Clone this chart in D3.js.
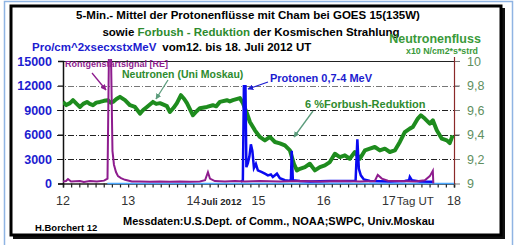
<!DOCTYPE html>
<html>
<head>
<meta charset="utf-8">
<script src="https://cdn.jsdelivr.net/npm/d3@7"></script>
<style>
  body { margin: 0; background: #fff; }
  text { font-family: "Liberation Sans", Arial, sans-serif; }
</style>
</head>
<body>
<svg id="chart"></svg>
<script>
// data (day of July 2012, value)
const xTicksMajor = [12, 13, 14, 15, 16, 17, 18]
const leftTicks = [0, 3000, 6000, 9000, 12000, 15000]
const rightTicks = [9, 9.2, 9.4, 9.6, 9.8, 10]

// neutron monitor Moscow, x10 N/cm2*s*strd
const neutron = [
  [12.00, 9.666], [12.05, 9.64], [12.107, 9.656], [12.153, 9.68], [12.21, 9.65], [12.26, 9.625],
  [12.31, 9.65], [12.368, 9.666], [12.41, 9.65], [12.46, 9.639], [12.51, 9.66], [12.567, 9.666],
  [12.63, 9.675], [12.69, 9.68], [12.73, 9.66], [12.767, 9.666], [12.82, 9.69], [12.874, 9.707],
  [12.951, 9.68], [13.028, 9.639], [13.104, 9.625], [13.14, 9.60], [13.181, 9.571], [13.23, 9.60],
  [13.288, 9.625], [13.38, 9.666], [13.43, 9.65], [13.488, 9.656], [13.595, 9.631], [13.641, 9.584],
  [13.70, 9.62], [13.748, 9.656], [13.81, 9.721], [13.86, 9.69], [13.902, 9.656], [13.994, 9.557],
  [14.05, 9.59], [14.10, 9.615], [14.209, 9.625], [14.30, 9.639], [14.35, 9.63], [14.408, 9.666],
  [14.515, 9.68], [14.56, 9.67], [14.607, 9.68], [14.715, 9.697], [14.761, 9.656], [14.822, 9.574],
  [14.868, 9.502], [14.945, 9.434], [15.021, 9.38], [15.098, 9.352], [15.175, 9.38], [15.252, 9.339],
  [15.328, 9.328], [15.405, 9.311], [15.482, 9.27], [15.543, 9.161], [15.589, 9.107], [15.635, 9.12],
  [15.712, 9.134], [15.788, 9.161], [15.865, 9.107], [15.942, 9.134], [16.018, 9.148], [16.095, 9.175],
  [16.172, 9.243], [16.248, 9.216], [16.325, 9.23], [16.40, 9.202], [16.479, 9.257], [16.555, 9.202],
  [16.632, 9.27], [16.709, 9.284], [16.785, 9.298], [16.862, 9.27], [16.939, 9.284], [17.015, 9.257],
  [17.092, 9.27], [17.169, 9.339], [17.245, 9.42], [17.322, 9.448], [17.368, 9.461], [17.445, 9.53],
  [17.491, 9.557], [17.552, 9.53], [17.629, 9.489], [17.675, 9.516], [17.736, 9.434], [17.813, 9.366],
  [17.89, 9.352], [17.935, 9.33], [17.98, 9.393]
]

// protons 0,7-4 MeV, Pro/cm^2xsecxstxMeV
const protons = [
  [14.73, 200], [14.76, 400], [14.776, 11900], [14.80, 11900], [14.814, 2000], [14.837, 2500],
  [14.86, 3300], [14.883, 4800], [14.906, 4000], [14.93, 1900], [14.96, 2400], [14.99, 1600],
  [15.052, 1400], [15.098, 1200], [15.144, 1000], [15.19, 1100], [15.22, 800], [15.283, 1200],
  [15.328, 650], [15.405, 400], [15.466, 350], [15.497, 400], [15.51, 4000], [15.527, 400],
  [15.635, 300], [15.79, 250], [16.095, 300], [16.40, 300], [16.49, 350], [16.517, 5400],
  [16.54, 1800], [16.57, 1000], [16.617, 500], [16.71, 300], [17.015, 250], [17.245, 300],
  [17.31, 400], [17.322, 800], [17.353, 400], [17.475, 250], [17.675, 200]
]

// x-ray start signal (RE)
const xray = [
  [12.00, 250], [12.046, 300], [12.077, 550], [12.123, 250], [12.26, 300], [12.32, 200],
  [12.414, 300], [12.52, 250], [12.63, 350], [12.683, 600], [12.705, 16000], [12.736, 16000],
  [12.759, 4000], [12.782, 2300], [12.813, 1400], [12.844, 900], [12.89, 650], [12.951, 450],
  [13.058, 250], [13.18, 250], [13.334, 200], [13.488, 250], [13.641, 200], [13.794, 250],
  [13.948, 200], [14.10, 250], [14.18, 400], [14.224, 1400], [14.255, 600], [14.33, 300],
  [14.485, 250], [14.638, 300], [14.79, 250], [15.02, 300], [15.33, 250], [15.635, 300],
  [15.94, 250], [16.248, 300], [16.555, 250], [16.785, 300], [16.83, 1050], [16.893, 600],
  [16.985, 350], [17.17, 300], [17.40, 250], [17.552, 400], [17.629, 900], [17.675, 1550],
  [17.683, 0]
]

// higher energy protons, stays at zero
const protonsHigh = [[12.68, 0], [18, 0]]

const svg = d3.select("svg#chart")
              .attr("width", 521)
              .attr("height", 245)

const x = d3.scaleLinear().domain([12, 18]).range([63, 454])
const yL = d3.scaleLinear().domain([0, 15000]).range([183.5, 61])
const yR = d3.scaleLinear().domain([9, 10]).range([183.5, 61])

//outer light blue frame
svg.append("rect")
   .attr("x", 4.5).attr("y", 1.5)
   .attr("width", 508).attr("height", 250)
   .attr("fill", "none")
   .attr("stroke", "#8fb4e3")
   .attr("stroke-width", 1.5)

//black box with shadow
svg.append("rect")
   .attr("x", 13).attr("y", 8)
   .attr("width", 492).attr("height", 231)
   .attr("fill", "#111")
svg.append("rect")
   .attr("x", 11).attr("y", 6)
   .attr("width", 490).attr("height", 229)
   .attr("fill", "white")
   .attr("stroke", "black")
   .attr("stroke-width", 3)

//title
svg.append("text")
   .attr("x", 248).attr("y", 19)
   .attr("text-anchor", "middle")
   .attr("font-size", 11.5).attr("font-weight", "bold")
   .text("5-Min.- Mittel der Protonenflüsse mit Cham bei GOES 15(135W)")

const t2 = svg.append("text")
   .attr("x", 251).attr("y", 36)
   .attr("text-anchor", "middle")
   .attr("font-size", 11.5).attr("font-weight", "bold")
t2.append("tspan").text("sowie ")
t2.append("tspan").attr("fill", "#2e8b2e").text("Forbush - Reduktion")
t2.append("tspan").text(" der Kosmischen Strahlung")

const t3 = svg.append("text")
   .attr("x", 32).attr("y", 51)
   .attr("font-size", 11.5).attr("font-weight", "bold")
t3.append("tspan").attr("fill", "#1c1cd0").text("Pro/cm^2xsecxstxMeV")
t3.append("tspan").attr("dx", 6).text("vom12. bis 18. Juli 2012 UT")

svg.append("text")
   .attr("x", 435).attr("y", 43)
   .attr("text-anchor", "middle")
   .attr("font-size", 12.5).attr("font-weight", "bold")
   .attr("fill", "#3a9a3a")
   .text("Neutronenfluss")
svg.append("text")
   .attr("x", 442).attr("y", 54)
   .attr("text-anchor", "middle")
   .attr("font-size", 8.8).attr("font-weight", "bold")
   .attr("fill", "#3a9a3a")
   .text("x10 N/cm2*s*strd")

//grid lines, dash-dot
svg.append("g")
   .selectAll("line")
   .data([3000, 6000, 9000, 12000])
   .join("line")
   .attr("x1", 57).attr("x2", 461)
   .attr("y1", d => Math.round(yL(d)) + 0.5)
   .attr("y2", d => Math.round(yL(d)) + 0.5)
   .attr("stroke", d => d == 12000 ? "#777" : "#222")
   .attr("stroke-width", 1)
   .attr("stroke-dasharray", "6,2,1,2")

//top line of plot area
svg.append("line")
   .attr("x1", 63).attr("x2", 454)
   .attr("y1", 61.5).attr("y2", 61.5)
   .attr("stroke", "#222").attr("stroke-width", 1.2)

//axes
const xAxis = svg.append("g")
   .attr("transform", "translate(0,183.5)")
   .call(d3.axisBottom(x)
           .tickValues(d3.range(0, 49).map(i => 12 + i / 8))
           .tickSize(4)
           .tickFormat(""))
xAxis.select(".domain").attr("stroke", "#222").attr("stroke-width", 1.5)
xAxis.selectAll(".tick line").attr("stroke", "#222").attr("stroke-width", 1.2)

const leftAxis = svg.append("g")
   .attr("transform", "translate(63,0)")
   .call(d3.axisLeft(yL).tickValues(leftTicks).tickSize(5).tickPadding(6)
           .tickFormat(d3.format("d")))
leftAxis.select(".domain").attr("stroke", "#111").attr("stroke-width", 1.5)
leftAxis.selectAll(".tick line").attr("stroke", "#111")
leftAxis.selectAll("text")
        .attr("font-size", 12.5).attr("font-weight", "bold")
        .attr("fill", "#1c1cd0")
        .attr("font-family", "Liberation Sans, Arial, sans-serif")

const rightAxis = svg.append("g")
   .attr("transform", "translate(454,0)")
   .call(d3.axisRight(yR).tickValues(rightTicks).tickSize(6).tickPadding(7)
           .tickFormat(d => d == 9 || d == 10 ? String(d) : d.toFixed(1).replace(".", ",")))
rightAxis.select(".domain").remove()
rightAxis.selectAll(".tick line").attr("stroke", "#777")
rightAxis.selectAll("text")
         .attr("font-size", 12.5)
         .attr("fill", "#5f8f5f")
         .attr("font-family", "Liberation Sans, Arial, sans-serif")

//right axis line, dark red
svg.append("line")
   .attr("x1", 454.5).attr("x2", 454.5)
   .attr("y1", 57).attr("y2", 184)
   .attr("stroke", "#8b2a2a").attr("stroke-width", 1.2)

//x labels
svg.append("g")
   .selectAll("text")
   .data(xTicksMajor)
   .join("text")
   .attr("x", d => x(d))
   .attr("y", 205)
   .attr("text-anchor", "middle")
   .attr("font-size", 12.5)
   .attr("fill", "#333")
   .text(d => d)
svg.append("text")
   .attr("x", x(14) + 8).attr("y", 205)
   .attr("font-size", 9.5).attr("font-weight", "bold")
   .attr("fill", "#222")
   .text("Juli 2012")
svg.append("text")
   .attr("x", x(17) + 8).attr("y", 205)
   .attr("font-size", 11.5)
   .attr("fill", "#333")
   .text("Tag UT")

//clip for the series
svg.append("clipPath").attr("id", "plot")
   .append("rect")
   .attr("x", 63).attr("y", 59)
   .attr("width", 392).attr("height", 126)

const lineL = d3.line().x(d => x(d[0])).y(d => yL(d[1]))
const lineR = d3.line().x(d => x(d[0])).y(d => yR(d[1]))

const series = svg.append("g").attr("clip-path", "url(#plot)")

series.append("path")
      .attr("d", lineL(protonsHigh))
      .attr("fill", "none")
      .attr("stroke", "#4aa8ff")
      .attr("stroke-width", 1.5)

series.append("path")
      .attr("d", lineR(neutron))
      .attr("fill", "none")
      .attr("stroke", "#1e8c1e")
      .attr("stroke-width", 4)
      .attr("stroke-linejoin", "round")

series.append("path")
      .attr("d", lineL(protons))
      .attr("fill", "none")
      .attr("stroke", "#0a0af0")
      .attr("stroke-width", 2.5)

series.append("path")
      .attr("d", lineL(xray))
      .attr("fill", "none")
      .attr("stroke", "#8e1c8e")
      .attr("stroke-width", 2)

//arrows
const defs = svg.append("defs")
function marker(id, color){
    defs.append("marker")
        .attr("id", id)
        .attr("viewBox", "0 0 10 10")
        .attr("refX", 9).attr("refY", 5)
        .attr("markerWidth", 4.5).attr("markerHeight", 4.5)
        .attr("orient", "auto")
        .append("path")
        .attr("d", "M0,0L10,5L0,10z")
        .attr("fill", color)
}
marker("mPurple", "#8e1c8e")
marker("mGreen", "#5c9c7c")
marker("mBlue", "#1c1cd0")

function arrow(x1, y1, x2, y2, color, m){
    svg.append("line")
       .attr("x1", x1).attr("y1", y1)
       .attr("x2", x2).attr("y2", y2)
       .attr("stroke", color).attr("stroke-width", 1.3)
       .attr("marker-end", "url(#" + m + ")")
}
arrow(92, 73, 106, 90, "#8e1c8e", "mPurple")
arrow(168, 80, 156, 99, "#5c9c7c", "mGreen")
arrow(268, 82, 248, 89, "#1c1cd0", "mBlue")
arrow(313, 111, 294, 137, "#5c9c7c", "mGreen")

//annotations
svg.append("text")
   .attr("x", 65).attr("y", 67)
   .attr("font-size", 9).attr("font-weight", "bold")
   .attr("fill", "#8e1c8e")
   .text("Röntgenstartsignal [RE]")
svg.append("text")
   .attr("x", 122).attr("y", 78)
   .attr("font-size", 10.5).attr("font-weight", "bold")
   .attr("fill", "#2e8b2e")
   .text("Neutronen (Uni Moskau)")
svg.append("text")
   .attr("x", 270).attr("y", 82)
   .attr("font-size", 11).attr("font-weight", "bold")
   .attr("fill", "#1c1cd0")
   .text("Protonen 0,7-4 MeV")
svg.append("text")
   .attr("x", 305).attr("y", 108)
   .attr("font-size", 11).attr("font-weight", "bold")
   .attr("fill", "#2e8b2e")
   .text("6 %Forbush-Reduktion")

//footer
svg.append("text")
   .attr("x", 35).attr("y", 231)
   .attr("font-size", 9.5).attr("font-weight", "bold")
   .text("H.Borchert 12")
svg.append("text")
   .attr("x", 123).attr("y", 225)
   .attr("font-size", 11).attr("font-weight", "bold")
   .text("Messdaten:U.S.Dept. of Comm., NOAA;SWPC, Univ.Moskau")
</script>
</body>
</html>
